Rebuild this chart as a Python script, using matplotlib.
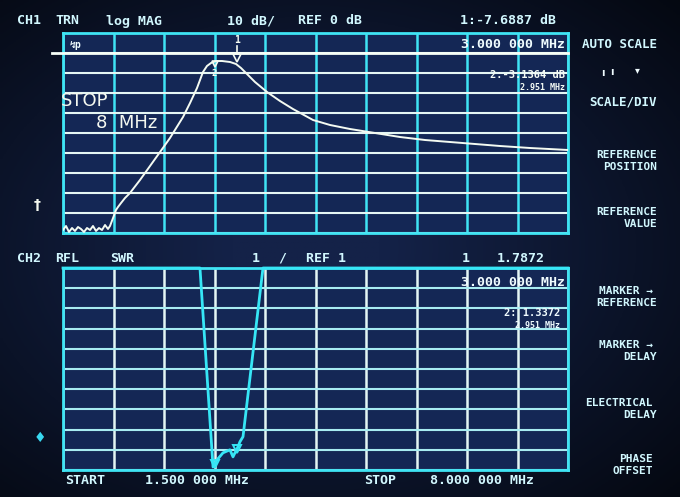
import numpy as np
import matplotlib
matplotlib.use("Agg")
import matplotlib.pyplot as plt

# ---------------- data ----------------
# Channel 1: transmission, log magnitude (dB) vs frequency (MHz)
ch1_freq = [1.500, 1.539, 1.577, 1.616, 1.654, 1.693, 1.732, 1.770, 1.809, 1.848,
            1.886, 1.925, 1.963, 2.002, 2.041, 2.079, 2.105, 2.144, 2.182, 2.208,
            2.247, 2.298, 2.362, 2.491, 2.620, 2.749, 2.877, 3.045, 3.135, 3.225,
            3.302, 3.353, 3.405, 3.469, 3.547, 3.650, 3.727, 3.791, 3.868, 3.971,
            4.126, 4.293, 4.460, 4.718, 4.937, 5.194, 5.516, 5.837, 6.159, 6.481,
            6.803, 7.125, 7.511, 8.000]
ch1_db = [-88.5, -86.5, -89.5, -87.5, -89.0, -87.0, -88.0, -89.5, -87.5, -88.5,
          -86.5, -89.0, -87.5, -88.5, -86.0, -88.0, -86.5, -82.5, -78.5, -77.0,
          -75.0, -72.5, -70.0, -63.5, -56.5, -49.5, -42.5, -32.0, -25.0, -17.5,
          -9.5, -6.5, -5.0, -4.0, -4.0, -4.5, -5.5, -7.5, -10.5, -14.5,
          -19.5, -24.0, -28.0, -33.5, -36.0, -38.0, -40.0, -42.0, -43.5, -44.5,
          -45.5, -46.5, -47.5, -48.5]

# Channel 2: reflection, SWR vs frequency (MHz); 11 = clipped at top of screen
ch2_freq = [1.500, 3.263, 3.431, 3.482, 3.559, 3.649, 3.688, 3.752, 3.778, 3.817, 4.074, 8.000]
ch2_swr = [11.0, 11.0, 1.15, 1.5, 1.85, 2.0, 1.65, 2.15, 2.4, 2.65, 11.0, 11.0]

marker_freq = [3.74, 3.45]      # markers 1 and 2 (MHz)
marker_labels = ["1", "2"]

f_start, f_stop = 1.5, 8.0
ch1_ref, ch1_div = 0.0, 10.0    # REF 0 dB, 10 dB/div
ch2_ref, ch2_div = 1.0, 1.0     # REF 1, 1 /div

# ---------------- styling ----------------
W, H = 680, 497
CYAN = "#3fe4f4"
WHITE = "#e4f6f4"
TXT = "#d2f8ff"
MONO = ["DejaVu Sans Mono", "DejaVu Sans"]

fig = plt.figure(figsize=(W / 100, H / 100), dpi=100)
fig.patch.set_facecolor("#0b1329")

# background vignette (CRT photo look)
vig = fig.add_axes([0, 0, 1, 1])
yy, xx = np.mgrid[0:1:200j, 0:1:200j]
r = np.sqrt(((xx - 0.45) / 0.75) ** 2 + ((yy - 0.5) / 0.72) ** 2)
shade = np.clip(1.15 - r, 0, 1)
c_in = np.array([0x14, 0x22, 0x48]) / 255
c_out = np.array([0x02, 0x04, 0x08]) / 255
img = c_out + (c_in - c_out) * shade[..., None]
vig.imshow(img, extent=[0, 1, 0, 1], aspect="auto")
vig.axis("off")


def px_axes(x0, y0, x1, y1):
    return fig.add_axes([x0 / W, 1 - y1 / H, (x1 - x0) / W, (y1 - y0) / H])


def style_panel(ax, vcol, hcol):
    ax.set_facecolor("#142755")
    ax.tick_params(length=0, labelbottom=False, labelleft=False)
    ax.xaxis.grid(True, color=vcol, lw=1.8)
    ax.yaxis.grid(True, color=hcol, lw=1.5)
    ax.set_axisbelow(True)
    for s in ax.spines.values():
        s.set_color(CYAN)
        s.set_linewidth(2.0)


# ---- upper panel: CH1 TRN log MAG ----
ax1 = px_axes(63, 33, 568, 233)
top1 = ch1_ref + 1 * ch1_div
bot1 = ch1_ref - 9 * ch1_div
ax1.set_xlim(f_start, f_stop)
ax1.set_ylim(bot1, top1)
ax1.set_xticks(np.linspace(f_start, f_stop, 11))
ax1.set_yticks(np.linspace(bot1, top1, 11))
style_panel(ax1, CYAN, WHITE)
ax1.axhline(ch1_ref, xmin=-0.022, xmax=1, color="#f6fff8", lw=2.0, clip_on=False, zorder=3)
ax1.plot(ch1_freq, ch1_db, color="#f4fbf2", lw=1.4, zorder=4)
# markers
m1y = np.interp(marker_freq[0], ch1_freq, ch1_db)
m2y = np.interp(marker_freq[1], ch1_freq, ch1_db)
ax1.plot([marker_freq[0]], [m1y + 3.5], marker="v", ms=6, mfc="none", mec="#f4fbf2", mew=1.2, zorder=5)
ax1.plot([marker_freq[0], marker_freq[0]], [m1y + 6, m1y + 9.5], color="#f4fbf2", lw=1.2, zorder=5)
ax1.text(marker_freq[0], m1y + 10, marker_labels[0], color="#f4fbf2", fontsize=7,
         ha="center", va="bottom", family=MONO, fontweight="bold", zorder=5)
ax1.plot([marker_freq[1]], [m2y - 1], marker="v", ms=5, mfc="none", mec="#f4fbf2", mew=1.2, zorder=5)
ax1.text(marker_freq[1], m2y - 3.5, marker_labels[1], color="#f4fbf2", fontsize=6.5,
         ha="center", va="top", family=MONO, fontweight="bold", zorder=5)

# ---- lower panel: CH2 RFL SWR ----
ax2 = px_axes(63, 268, 568, 470)
bot2 = ch2_ref
top2 = ch2_ref + 10 * ch2_div
ax2.set_xlim(f_start, f_stop)
ax2.set_ylim(bot2, top2)
ax2.set_xticks(np.linspace(f_start, f_stop, 11))
ax2.set_yticks(np.linspace(bot2, top2, 11))
style_panel(ax2, WHITE, "#a8ecf2")
ax2.plot(ch2_freq, ch2_swr, color="#36e6f6", lw=2.0, clip_on=False, zorder=4)
for mf in marker_freq:
    my = np.interp(mf, ch2_freq, ch2_swr)
    ax2.plot([mf], [my], marker="v", ms=6, mfc="none", mec="#36e6f6", mew=1.4, zorder=5)

# ---------------- text overlay ----------------
ov = fig.add_axes([0, 0, 1, 1])
ov.set_xlim(0, W)
ov.set_ylim(H, 0)
ov.axis("off")
ov.patch.set_alpha(0)


def t(x, y, s, ha="left", color=TXT, size=9.5, family=MONO, weight="bold", **kw):
    ov.text(x, y, s, ha=ha, va="center", color=color, fontsize=size,
            family=family, fontweight=weight, **kw)


# header CH1
t(17, 21, "CH1")
t(55, 21, "TRN")
t(106, 21, "log MAG")
t(227, 21, "10 dB/")
t(298, 21, "REF 0 dB")
t(460, 21, "1:-7.6887 dB")
t(565, 44, "3.000 000 MHz", ha="right", color="#f0fcff")
t(565, 75, "2:-3.1364 dB", ha="right", color="#f4fbf6", size=7.5)
t(565, 87, "2.951 MHz", ha="right", color="#f4fbf6", size=6)
t(70, 45, "↯p", color="#f0fcff", size=7)
t(61, 101, "STOP", color="#f4f8f0", size=13, family=["DejaVu Sans"], weight="normal")
t(96, 123, "8  MHz", color="#f4f8f0", size=13, family=["DejaVu Sans"], weight="normal")

# header CH2
t(17, 258, "CH2")
t(55, 258, "RFL")
t(110, 258, "SWR")
t(252, 258, "1")
t(278, 258, "/")
t(306, 258, "REF 1")
t(462, 258, "1")
t(545, 258, "1.7872", ha="right")
t(565, 283, "3.000 000 MHz", ha="right", color="#f0fcff")
t(560, 313, "2: 1.3372", ha="right", color="#f0fcff", size=7.5)
t(560, 325, "2.951 MHz", ha="right", color="#f0fcff", size=6)

# left side indicators
t(37, 205, "†", ha="center", color="#f4f8f0", size=10, family=["DejaVu Sans"])
t(40, 438, "♦", ha="center", color="#38d8f0", size=10, family=["DejaVu Sans"])

# bottom line
t(65, 481, "START")
t(145, 481, "1.500 000 MHz")
t(364, 481, "STOP")
t(430, 481, "8.000 000 MHz")

# softkeys
SK = 657
SKS = 8
t(SK, 45, "AUTO SCALE", ha="right", size=9)
t(SK - 20, 70, "▾", ha="center", color="#f0fcff", size=7, family=["DejaVu Sans"])
t(SK - 45, 72, "ı", ha="center", color="#f0fcff", size=7, family=["DejaVu Sans"])
t(SK - 54, 73, "ı", ha="center", color="#f0fcff", size=7, family=["DejaVu Sans"])
t(SK, 102, "SCALE/DIV", ha="right", size=9)
t(SK, 155, "REFERENCE", ha="right", size=SKS)
t(SK, 167, "POSITION", ha="right", size=SKS)
t(SK, 212, "REFERENCE", ha="right", size=SKS)
t(SK, 224, "VALUE", ha="right", size=SKS)
t(SK - 4, 291, "MARKER →", ha="right", size=SKS)
t(SK, 303, "REFERENCE", ha="right", size=SKS)
t(SK - 4, 345, "MARKER →", ha="right", size=SKS)
t(SK, 357, "DELAY", ha="right", size=SKS)
t(SK - 4, 403, "ELECTRICAL", ha="right", size=SKS)
t(SK, 415, "DELAY", ha="right", size=SKS)
t(SK - 4, 459, "PHASE", ha="right", size=SKS)
t(SK - 4, 471, "OFFSET", ha="right", size=SKS)

fig.savefig("out.png", dpi=100, facecolor=fig.get_facecolor())
